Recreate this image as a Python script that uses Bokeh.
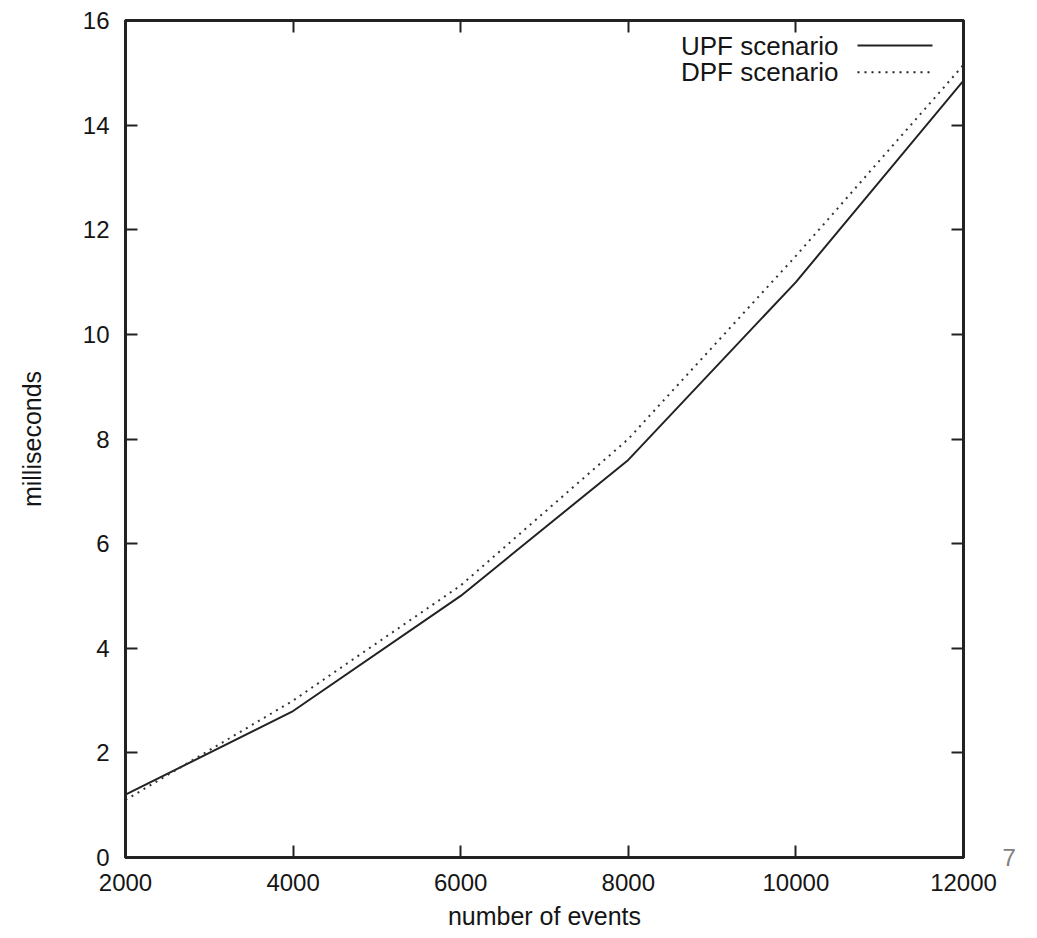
from bokeh.plotting import figure
from bokeh.models import LinearAxis, Label, Arrow, Range1d, FixedTicker
from bokeh.embed import file_html
from bokeh.resources import INLINE

events = [2000, 4000, 6000, 8000, 10000, 12000]
upf_ms = [1.2, 2.8, 5.0, 7.6, 11.0, 14.85]
dpf_ms = [1.1, 3.0, 5.2, 8.0, 11.5, 15.15]
x_ticks = [2000, 4000, 6000, 8000, 10000, 12000]
y_ticks = [0, 2, 4, 6, 8, 10, 12, 14, 16]
series_names = ["UPF scenario", "DPF scenario"]
page_number = "7"

FONT = "Liberation Sans"
INK = "#222222"
TXT = "#151515"

p = figure(width=1025, height=938, output_backend="svg", toolbar_location=None,
           x_range=Range1d(2000, 12000), y_range=Range1d(0, 16),
           min_border_left=125, min_border_top=20, min_border_right=62,
           min_border_bottom=81, x_axis_type=None, y_axis_type=None)
p.xgrid.visible = False
p.ygrid.visible = False
p.outline_line_color = INK
p.outline_line_width = 3
p.background_fill_color = "white"
p.border_fill_color = "white"

def style(ax, ticks, labels=True):
    ax.ticker = FixedTicker(ticks=ticks)
    ax.minor_tick_line_color = None
    ax.major_tick_in = 12
    ax.major_tick_out = 0
    ax.major_tick_line_width = 2
    ax.major_tick_line_color = INK
    ax.axis_line_color = INK
    ax.axis_line_width = 3
    ax.major_label_text_font = FONT
    ax.axis_label_text_font = FONT
    ax.axis_label_text_font_size = "25px"
    ax.axis_label_text_font_style = "normal"
    ax.axis_label_text_color = TXT
    if labels:
        ax.major_label_text_font_size = "24px"
        ax.major_label_text_color = TXT
    else:
        ax.major_label_text_font_size = "1px"
        ax.major_label_text_color = None
        ax.major_label_standoff = 0

xb = LinearAxis(axis_label="number of events")
style(xb, x_ticks)
xb.major_label_standoff = 16
xb.axis_label_standoff = 8
p.add_layout(xb, "below")

yl = LinearAxis(axis_label="milliseconds")
style(yl, y_ticks)
yl.major_label_standoff = 16
yl.axis_label_standoff = 34
p.add_layout(yl, "left")

xt = LinearAxis()
style(xt, x_ticks, labels=False)
p.add_layout(xt, "above")
yr = LinearAxis()
style(yr, y_ticks, labels=False)
p.add_layout(yr, "right")

# page number artifact (grey "7" beside the last x tick label)
pg = LinearAxis(ticker=FixedTicker(ticks=[0]), major_label_overrides={0: page_number})
pg.axis_line_color = None
pg.major_tick_line_color = None
pg.minor_tick_line_color = None
pg.major_label_standoff = 33
pg.major_label_text_font = FONT
pg.major_label_text_font_size = "24px"
pg.major_label_text_color = "#808080"
pg.major_label_text_baseline = "top"
p.add_layout(pg, "right")

p.line(events, upf_ms, line_color=INK, line_width=2)
p.line(events, dpf_ms, line_color="#333333", line_width=2, line_dash="2 5")

# legend (gnuplot style: text right-aligned, sample to the right)
leg_y = [15.52, 15.01]
dashes = ["solid", "2 5"]
for name, ly, d in zip(series_names, leg_y, dashes):
    p.add_layout(Label(x=10508, y=ly, text=name, text_align="right",
                       text_baseline="middle", text_font=FONT,
                       text_font_size="26px", text_color=TXT))
    p.add_layout(Arrow(end=None, x_start=10735, y_start=ly, x_end=11630, y_end=ly,
                       line_color=INK, line_width=2, line_dash=d))

open("out.html", "w").write(file_html(p, INLINE))
